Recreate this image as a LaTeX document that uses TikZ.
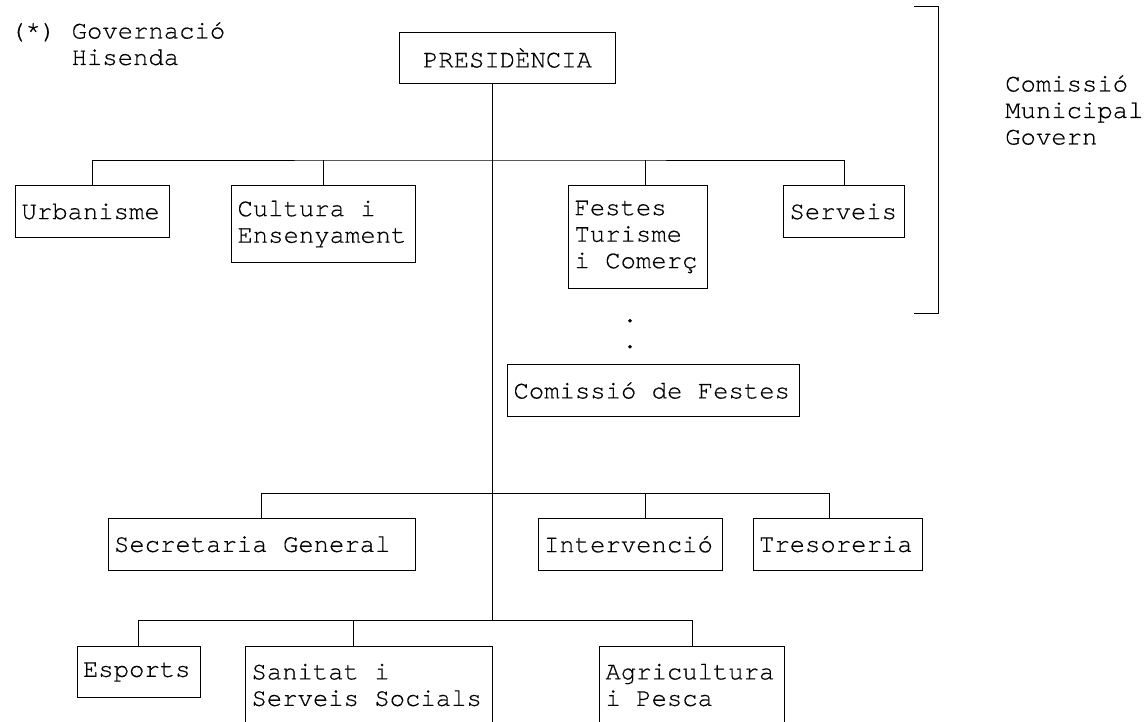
\documentclass[tikz,border=0pt]{standalone}
\usepackage{fontspec}
\setmainfont[WordSpace={1,0,0},PunctuationSpace=WordSpace,FakeBold=0.35]{TeX Gyre Cursor}
\begin{document}
\begin{tikzpicture}[x=1pt,y=-1pt,
  every node/.style={font=\fontsize{25.6pt}{26.5pt}\selectfont,
    execute at begin node={\spaceskip=0pt\xspaceskip=0pt\relax}},
  bx/.style={draw, line width=1pt, anchor=north west, align=flush left, inner xsep=6pt, inner ysep=0pt},
  lbl/.style={anchor=north west, inner sep=0pt, align=flush left},
  ln/.style={line width=1pt}]
\useasboundingbox (0,0) rectangle (1148,721);
\clip (0,0) rectangle (1148,721);

% boxes
\node[bx, align=center, minimum width=216pt, minimum height=51pt, text width=204pt] (pres) at (399,32) {PRESIDÈNCIA};
\node[bx, minimum width=154pt, minimum height=52pt, text width=142pt] (urb) at (15,185) {Urbanisme};
\node[bx, minimum width=184pt, minimum height=77pt, text width=172pt] (cult) at (231,185) {Cultura i\\Ensenyament};
\node[bx, minimum width=139pt, minimum height=103pt, text width=127pt] (fest) at (568,185) {Festes\\Turisme\\i Comerç};
\node[bx, minimum width=121pt, minimum height=52pt, text width=109pt] (serv) at (783,185) {Serveis};
\node[bx, minimum width=292pt, minimum height=52pt, text width=280pt] (comf) at (507,364) {Comissió de Festes};
\node[bx, minimum width=307.5pt, minimum height=51.5pt, text width=295.5pt] (sec) at (107.5,518) {Secretaria General};
\node[bx, minimum width=184.5pt, minimum height=51.5pt, text width=172.5pt] (int) at (537.5,518) {Intervenció};
\node[bx, minimum width=169.5pt, minimum height=51.5pt, text width=157.5pt] (tres) at (752.5,518) {Tresoreria};
\node[bx, minimum width=123.5pt, minimum height=51pt, text width=111.5pt] (esp) at (76.5,646) {Esports};
\node[bx, minimum width=246.5pt, minimum height=77pt, text width=234.5pt] (san) at (245,646) {Sanitat i\\Serveis Socials};
\node[bx, minimum width=185pt, minimum height=77pt, text width=173pt] (agr) at (599,646) {Agricultura\\i Pesca};

% labels
\node[lbl] (gov) at (10,22) {(*) Governació\\\phantom{(*) }Hisenda};
\node[lbl] (cmg) at (1005,75) {Comissió\\Municipal\\Govern};
\node[inner sep=0pt, anchor=base] (d1) at (630,322) {.};
\node[inner sep=0pt, anchor=base] (d2) at (630,348) {.};

% bracket
\coordinate (brt) at (914,6);
\coordinate (brb) at (914,313);
\draw[ln] (brt) -- ++(24,0) |- (brb);

% connectors
\coordinate (b1) at (492,160);
\coordinate (b2) at (492,493);
\coordinate (b3) at (492,620);
\coordinate (fx) at (645,0);
\coordinate (ix) at (645,0);
\coordinate (tx) at (829,0);
\coordinate (sx) at (353,0);
\draw[ln] (pres.south -| b1) -- (b3);
\draw[ln] (urb.north) |- (b1) -| (serv.north);
\draw[ln] (cult.north) -- (cult.north |- b1);
\draw[ln] (fest.north -| fx) -- (b1 -| fx);
\draw[ln] (sec.north) |- (b2) -- (b2 -| tx) -- (tres.north -| tx);
\draw[ln] (int.north -| ix) -- (b2 -| ix);
\draw[ln] (esp.north) |- (b3) -| (agr.north);
\draw[ln] (san.north -| sx) -- (b3 -| sx);
\end{tikzpicture}
\end{document}
